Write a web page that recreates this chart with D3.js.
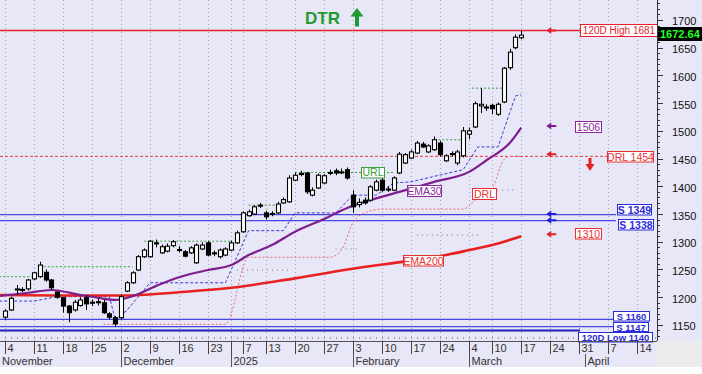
<!DOCTYPE html>
<html>
<head>
<meta charset="utf-8">
<script src="https://cdn.jsdelivr.net/npm/d3@7"></script>
<style>
  body { margin: 0; background: #fff; }
  svg text { font-family: "Liberation Sans", Arial, sans-serif; }
</style>
</head>
<body>
<svg id="chart" width="702" height="374"></svg>
<script>
// Data -------------------------------------
var holidays = ['2024-12-24', '2024-12-25', '2024-12-26', '2025-01-01', '2025-01-06', '2025-03-03'];

// daily candles, 4 Nov 2024 .. 17 Mar 2025
var openP = [1164, 1177, 1213, 1214, 1215, 1233, 1237, 1245, 1231, 1209,
  1199, 1184, 1177, 1185, 1199, 1191, 1190, 1190, 1170, 1163,
  1163, 1211, 1226, 1249, 1273, 1273, 1298, 1280, 1283, 1293,
  1286, 1282, 1280, 1262, 1287, 1298, 1279, 1273, 1276, 1285,
  1298, 1318, 1347, 1350, 1365, 1352, 1350, 1352, 1370, 1372,
  1411, 1422, 1424, 1384, 1397, 1406, 1424, 1428, 1426, 1430,
  1384, 1367, 1375, 1375, 1393, 1411, 1395, 1393, 1424, 1442,
  1451, 1460, 1476, 1462, 1466, 1478, 1446, 1458, 1442, 1455,
  1494, 1507, 1545, 1543, 1546, 1530, 1552, 1614, 1650, 1668];
var highP = [1178, 1201, 1222, 1218, 1233, 1246, 1264, 1250, 1233, 1211,
  1200, 1186, 1195, 1200, 1204, 1196, 1198, 1195, 1173, 1166,
  1205, 1229, 1247, 1276, 1288, 1303, 1304, 1295, 1297, 1303,
  1292, 1285, 1292, 1297, 1299, 1301, 1284, 1288, 1290, 1302,
  1320, 1355, 1358, 1366, 1370, 1356, 1355, 1372, 1380, 1420,
  1425, 1428, 1426, 1398, 1423, 1422, 1430, 1432, 1432, 1434,
  1393, 1378, 1380, 1402, 1412, 1415, 1400, 1418, 1462, 1460,
  1466, 1482, 1480, 1476, 1490, 1482, 1458, 1463, 1466, 1507,
  1506, 1553, 1577, 1548, 1549, 1551, 1615, 1648, 1674, 1681];
var lowP = [1160, 1175, 1204, 1209, 1212, 1231, 1235, 1228, 1214, 1197,
  1172, 1155, 1174, 1183, 1177, 1184, 1185, 1170, 1160, 1147,
  1160, 1209, 1224, 1247, 1271, 1271, 1290, 1278, 1281, 1290,
  1281, 1272, 1278, 1260, 1285, 1274, 1274, 1270, 1274, 1283,
  1296, 1316, 1345, 1348, 1361, 1340, 1346, 1350, 1368, 1370,
  1409, 1418, 1386, 1382, 1395, 1404, 1420, 1420, 1422, 1412,
  1352, 1362, 1367, 1372, 1391, 1390, 1390, 1391, 1422, 1440,
  1449, 1458, 1469, 1460, 1464, 1454, 1444, 1454, 1438, 1452,
  1485, 1505, 1532, 1536, 1530, 1527, 1550, 1610, 1647, 1665];
var closeP = [1175, 1198, 1215, 1213, 1231, 1244, 1258, 1231, 1217, 1200,
  1184, 1172, 1191, 1195, 1188, 1190, 1192, 1172, 1164, 1152,
  1201, 1226, 1244, 1273, 1285, 1301, 1297, 1291, 1292, 1300,
  1285, 1274, 1289, 1294, 1294, 1276, 1280, 1285, 1287, 1298,
  1316, 1352, 1354, 1363, 1366, 1345, 1351, 1368, 1376, 1415,
  1420, 1423, 1390, 1393, 1420, 1419, 1425, 1424, 1426, 1415,
  1363, 1371, 1370, 1399, 1408, 1393, 1394, 1415, 1458, 1457,
  1462, 1478, 1471, 1473, 1484, 1457, 1455, 1459, 1462, 1500,
  1500, 1549, 1548, 1542, 1540, 1548, 1613, 1642, 1669, 1672.64];

// moving averages, read at trading-day positions
var ema30Day = [-1, 4, 8, 13, 16, 19, 22, 26, 30, 35, 39, 42, 46, 50, 55, 59, 62, 68, 74, 80, 83, 87, 89];
var ema30 = [1202, 1208, 1213, 1204, 1199, 1195, 1202, 1220, 1236, 1249, 1258, 1276, 1294, 1318, 1341, 1361, 1372, 1390, 1408, 1426, 1447, 1478, 1506];
var ema200Day = [-1, 10, 20, 30, 39, 50, 61, 70, 76, 80, 85, 89];
var ema200 = [1204, 1203, 1203, 1209, 1217, 1234, 1253, 1266, 1276, 1285, 1297, 1310];

// trailing lines
var blueTrailDay = [-1, 5, 9, 18, 19, 21, 25, 38, 42, 48, 50, 57, 60, 64, 67, 70, 74, 79, 81.5, 85, 88, 89];
var blueTrail = [1193, 1193, 1201, 1201, 1160, 1176, 1226, 1226, 1320, 1320, 1352, 1352, 1384, 1384, 1406, 1408, 1418, 1430, 1471, 1471, 1563, 1565];
var drlTrailDay = [17, 38, 42, 56, 58, 60, 62, 65, 79, 81, 84, 86, 87, 89];
var drlTrail = [1151, 1151, 1272, 1272, 1285, 1335, 1352, 1359, 1359, 1375, 1397, 1448, 1454, 1454];

// URL steps (green) and lower steps (grey): start day, end day, level
var urlFrom = [-1, 6, 24, 42, 50, 74, 80.5];
var urlTo = [5, 22, 39, 47.5, 67, 79, 85.7];
var urlLevel = [1237, 1255, 1301, 1366, 1425, 1484, 1577];
var greyFrom = [40, 57, 71, 84];
var greyTo = [49, 61, 82, 88];
var greyLevel = [1249, 1287, 1312, 1393];

// levels
var supportLevels = [1349, 1338, 1160, 1147];
var high120 = 1681, low120 = 1140, drlLevel = 1454, lastClose = 1672.64;

// x axis
var tickDates = ['2024-11-04', '2024-11-11', '2024-11-18', '2024-11-25', '2024-12-02', '2024-12-09', '2024-12-16', '2024-12-23',
  '2025-01-02', '2025-01-07', '2025-01-13', '2025-01-20', '2025-01-27', '2025-02-03', '2025-02-10', '2025-02-17', '2025-02-24',
  '2025-03-04', '2025-03-10', '2025-03-17', '2025-03-24', '2025-03-31', '2025-04-07', '2025-04-14'];
var tickLabels = ['4', '11', '18', '25', '2', '9', '16', '23', '', '7', '13', '20', '27', '3', '10', '17', '24',
  '4', '10', '17', '24', '31', '7', '14'];
var monthDates = ['2024-12-02', '2025-01-02', '2025-02-03', '2025-03-04', '2025-04-01'];
var monthLabels = ['December', '2025', 'February', 'March', 'April'];

// Calendar -------------------------------------
var parse = d3.utcParse('%Y-%m-%d');
var fmt = d3.utcFormat('%Y-%m-%d');
var days = d3.utcDays(parse('2024-11-04'), parse('2025-04-19')).filter(function(d) {
  return d.getUTCDay() % 6 !== 0 && holidays.indexOf(fmt(d)) < 0;
});
var dayIndex = {};
days.forEach(function(d, i) { dayIndex[fmt(d)] = i; });

// Scales -------------------------------------
var plotRight = 657, plotBottom = 341;
var x = d3.scaleLinear().domain([-0.86, 112.4]).range([0, plotRight]);
var y = d3.scaleLinear().domain([1121, 1736]).range([plotBottom, 0]);

var svg = d3.select('#chart');
var bg = '#e7e7f7';

svg.append('rect').attr('width', 702).attr('height', 367).attr('fill', bg);
svg.append('rect').attr('x', plotRight).attr('y', plotBottom).attr('width', 45).attr('height', 26).attr('fill', '#ececec');

svg.append('defs').append('clipPath').attr('id', 'plotclip')
  .append('rect').attr('width', plotRight).attr('height', plotBottom);
var plot = svg.append('g').attr('clip-path', 'url(#plotclip)');

// vertical grid
plot.selectAll('line.grid').data(tickDates).enter().append('line')
  .attr('x1', function(d) { return Math.round(x(dayIndex[d])) + 0.5; })
  .attr('x2', function(d) { return Math.round(x(dayIndex[d])) + 0.5; })
  .attr('y1', 0).attr('y2', plotBottom)
  .attr('stroke', '#a2a2b6').attr('stroke-dasharray', '1,3');

// daily marks along the bottom
plot.selectAll('line.day').data(d3.range(0, 113)).enter().append('line')
  .attr('x1', function(d) { return Math.round(x(d)) + 0.5; })
  .attr('x2', function(d) { return Math.round(x(d)) + 0.5; })
  .attr('y1', plotBottom - 4).attr('y2', plotBottom - 2)
  .attr('stroke', '#9a9aaa');

// Horizontal levels -------------------------------------
function hline(v, color, width, dash, x2) {
  plot.append('line')
    .attr('x1', 0).attr('x2', x2)
    .attr('y1', y(v)).attr('y2', y(v))
    .attr('stroke', color).attr('stroke-width', width)
    .attr('stroke-dasharray', dash);
}
hline(high120, '#e8202a', 1.6, null, 582);
hline(drlLevel, '#e83a3a', 1, '3,2', 608);
supportLevels.forEach(function(v) { hline(v, '#4646e6', 1.3, null, 616); });
hline(low120, '#1c1cb8', 2, null, 580);

// Step lines -------------------------------------
function steps(from, to, level, color, dash) {
  plot.selectAll(null).data(level).enter().append('line')
    .attr('x1', function(d, i) { return x(from[i]); })
    .attr('x2', function(d, i) { return x(to[i]); })
    .attr('y1', function(d) { return y(d); })
    .attr('y2', function(d) { return y(d); })
    .attr('stroke', color).attr('stroke-dasharray', dash);
}
steps(urlFrom, urlTo, urlLevel, '#3aa03a', '2,2');
steps(greyFrom, greyTo, greyLevel, '#7d7d85', '1,4');

function series(dayArr, valArr, color, width, dash, curve) {
  var line = d3.line()
    .x(function(d) { return x(d[0]); })
    .y(function(d) { return y(d[1]); })
    .curve(curve);
  plot.append('path')
    .datum(dayArr.map(function(d, i) { return [d, valArr[i]]; }))
    .attr('d', line)
    .attr('fill', 'none')
    .attr('stroke', color).attr('stroke-width', width)
    .attr('stroke-dasharray', dash);
}
series(drlTrailDay, drlTrail, '#f06a6a', 1, '2,2', d3.curveMonotoneX);
series(blueTrailDay, blueTrail, '#3a3ad6', 1, '3,2', d3.curveLinear);
series(ema200Day, ema200, '#e82020', 2.6, null, d3.curveMonotoneX);
series(ema30Day, ema30, '#7d1f8e', 2.2, null, d3.curveMonotoneX);

// Candles -------------------------------------
var candleData = closeP.map(function(c, i) {
  return { i: i, o: openP[i], h: highP[i], l: lowP[i], c: c };
});
var candle = plot.selectAll('g.candle').data(candleData).enter().append('g');
candle.append('line')
  .attr('x1', function(d) { return Math.round(x(d.i)) + 0.5; })
  .attr('x2', function(d) { return Math.round(x(d.i)) + 0.5; })
  .attr('y1', function(d) { return y(d.h); })
  .attr('y2', function(d) { return y(d.l); })
  .attr('stroke', '#000');
candle.append('rect')
  .attr('x', function(d) { return Math.round(x(d.i)) - 1.5; })
  .attr('width', 4)
  .attr('y', function(d) { return y(Math.max(d.o, d.c)); })
  .attr('height', function(d) { return Math.max(1, Math.abs(y(d.o) - y(d.c))); })
  .attr('fill', function(d) { return d.c >= d.o ? '#fff' : '#000'; })
  .attr('stroke', '#000').attr('stroke-width', 1.1);

// Label boxes -------------------------------------
function tag(x0, yc, w, h, txt, color, bold, size) {
  svg.append('rect').attr('x', x0 + 0.5).attr('y', Math.round(yc - h / 2) + 0.5)
    .attr('width', w).attr('height', h)
    .attr('fill', '#fff').attr('stroke', color);
  svg.append('text').attr('x', x0 + w / 2 + 0.5).attr('y', yc + 0.5)
    .attr('text-anchor', 'middle').attr('dominant-baseline', 'central')
    .attr('font-size', size || 10.5).attr('font-weight', bold ? 'bold' : 'normal')
    .attr('fill', color).text(txt);
}
tag(580, y(high120), 77, 12, '120D High ' + high120, '#e8202a', false, 10);
tag(575, y(ema30[ema30.length - 1]) - 1.5, 26, 11, String(ema30[ema30.length - 1]), '#8a2a9a', false);
tag(607, y(drlLevel), 46, 10.5, 'DRL ' + drlLevel, '#e83030', false);
tag(617, y(supportLevels[0]) - 5, 34, 10.5, 'S ' + supportLevels[0], '#2b2bd8', true);
tag(618, y(supportLevels[1]) + 3.5, 35, 10.5, 'S ' + supportLevels[1], '#2b2bd8', true);
tag(575, y(ema200[ema200.length - 1]) - 3, 26, 10.5, String(ema200[ema200.length - 1]), '#e83030', false);
tag(613, y(supportLevels[2]) - 3.5, 36, 9.5, 'S ' + supportLevels[2], '#2b2bd8', true, 9.5);
tag(613, y(supportLevels[3]), 35, 9, 'S ' + supportLevels[3], '#2b2bd8', true, 9.5);
tag(578, y(low120) + 6.5, 74, 9.5, '120D Low ' + low120, '#2b2bd8', true, 9.5);
tag(361, y(urlLevel[4]) - 0.5, 23, 10.5, 'URL', '#3aa03a', false);
tag(407, 190, 34, 11, 'EMA30', '#8a2a9a', false);
tag(472, 193.5, 24, 11, 'DRL', '#e83030', false);
tag(403, 260, 40, 10.5, 'EMA200', '#e83030', false);

// last price box
svg.append('rect').attr('x', 658).attr('y', Math.round(y(lastClose)) - 8).attr('width', 46).attr('height', 14).attr('fill', '#000');
svg.append('text').attr('x', 660).attr('y', y(lastClose) - 1)
  .attr('dominant-baseline', 'central').attr('font-size', 11).attr('font-weight', 'bold')
  .attr('fill', '#22ff22').text(lastClose.toFixed(2));

// Arrows -------------------------------------
function leftArrow(xt, yc, color) {
  svg.append('path')
    .attr('d', 'M' + xt + ',' + yc + 'l5,-3.5v2.5h5v2h-5v2.5z')
    .attr('fill', color);
}
var arrowX = x(dayIndex['2025-03-24']) - 4;
leftArrow(arrowX, y(high120), '#e8202a');
leftArrow(arrowX, y(ema30[ema30.length - 1]) - 1.5, '#7d1f8e');
leftArrow(arrowX, y(drlLevel) - 2, '#e8202a');
leftArrow(arrowX, y(supportLevels[0]) - 0.5, '#2020d0');
leftArrow(arrowX, y(supportLevels[1]) - 0.5, '#2020d0');
leftArrow(arrowX, y(ema200[ema200.length - 1]) - 2, '#e8202a');
svg.append('path')
  .attr('d', 'M588.5,158h3v6h3l-4.5,7l-4.5,-7h3z')
  .attr('fill', '#e8202a');

// Title -------------------------------------
svg.append('text').attr('x', 305).attr('y', 24)
  .attr('font-size', 17).attr('font-weight', 'bold').attr('fill', '#1f9b2f').text('DTR');
svg.append('path')
  .attr('d', 'M357,8l6.5,8.5h-4.5v10h-4v-10h-4.5z')
  .attr('fill', '#1f9b2f');

// Right axis -------------------------------------
var yTicks = d3.range(1130, 1731, 10);
svg.append('line').attr('x1', plotRight + 0.5).attr('x2', plotRight + 0.5)
  .attr('y1', 0).attr('y2', plotBottom).attr('stroke', '#333');
svg.selectAll('line.ytick').data(yTicks).enter().append('line')
  .attr('x1', plotRight).attr('x2', function(d) { return plotRight + (d % 50 === 0 ? 6 : 3); })
  .attr('y1', function(d) { return Math.round(y(d)) + 0.5; })
  .attr('y2', function(d) { return Math.round(y(d)) + 0.5; })
  .attr('stroke', '#333');
svg.selectAll('text.ylab').data(yTicks.filter(function(d) { return d % 50 === 0 && d >= 1150 && d <= 1700; }))
  .enter().append('text')
  .attr('x', 672).attr('y', function(d) { return y(d) + 1.5; })
  .attr('dominant-baseline', 'central')
  .attr('font-size', 11).attr('fill', '#111')
  .text(function(d) { return d; });

// Bottom axis -------------------------------------
svg.append('line').attr('x1', 0).attr('x2', plotRight).attr('y1', plotBottom + 0.5).attr('y2', plotBottom + 0.5).attr('stroke', '#555');
var xt = svg.selectAll('g.xtick').data(tickDates).enter().append('g')
  .attr('transform', function(d) { return 'translate(' + (Math.round(x(dayIndex[d])) + 0.5) + ',0)'; });
xt.append('line').attr('y1', plotBottom).attr('y2', 354).attr('stroke', '#444');
xt.append('text').attr('x', 2).attr('y', 352)
  .attr('font-size', 11).attr('fill', '#333')
  .text(function(d, i) { return tickLabels[i]; });

svg.append('text').attr('x', 2).attr('y', 365).attr('font-size', 11).attr('fill', '#333').text('November');
var mt = svg.selectAll('g.month').data(monthDates).enter().append('g')
  .attr('transform', function(d) { return 'translate(' + (Math.round(x(dayIndex[d])) + 0.5) + ',0)'; });
mt.append('line').attr('y1', 354).attr('y2', 367).attr('stroke', '#555');
mt.append('text').attr('x', 2).attr('y', 365)
  .attr('font-size', 11).attr('fill', '#333')
  .text(function(d, i) { return monthLabels[i]; });
</script>
</body>
</html>
